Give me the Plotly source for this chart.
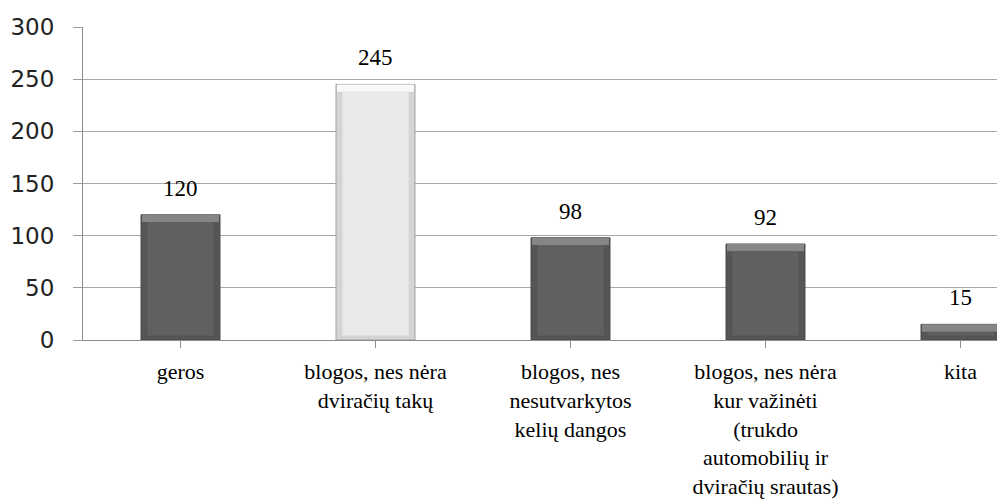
import plotly.graph_objects as go

# Survey answers and counts
categories = [
    "geros",
    "blogos, nes nėra<br>dviračių takų",
    "blogos, nes<br>nesutvarkytos<br>kelių dangos",
    "blogos, nes nėra<br>kur važinėti<br>(trukdo<br>automobilių ir<br>dviračių srautas)",
    "kita",
]
values = [120, 245, 98, 92, 15]
y_ticks = [0, 50, 100, 150, 200, 250, 300]

SERIF = "Liberation Serif"

highlight = 1  # index of the light bar
face = ["#e9e9e9" if i == highlight else "#606060" for i in range(len(values))]
rim = ["#d4d4d4" if i == highlight else "#555555" for i in range(len(values))]
top = ["#f8f8f8" if i == highlight else "#868686" for i in range(len(values))]
edge = ["#a0a0a0" if i == highlight else "#4a4a4a" for i in range(len(values))]

x = list(range(len(categories)))
bevel = 7.0

fig = go.Figure()
# outer bevel rim
fig.add_trace(go.Bar(
    x=x, y=values, width=0.405,
    marker=dict(color=rim, line=dict(color=edge, width=1)),
    hoverinfo="skip", showlegend=False,
))
# lighter top bevel
fig.add_trace(go.Bar(
    x=x, y=[bevel for v in values], base=[v - bevel for v in values],
    width=0.395,
    marker=dict(color=top, line=dict(width=0)),
    hoverinfo="skip", showlegend=False,
))
# inner face of each bar
fig.add_trace(go.Bar(
    x=x, y=[max(v - 1.6 * bevel, 0.3) for v in values],
    base=[0.6 * bevel for v in values],
    width=0.34,
    marker=dict(color=face, line=dict(width=0)),
    hoverinfo="skip", showlegend=False,
))

for xi, v in zip(x, values):
    fig.add_annotation(
        x=xi, y=v, text=str(v), showarrow=False,
        yanchor="bottom", yshift=12,
        font=dict(family=SERIF, size=23, color="#000000"),
    )

fig.update_layout(
    width=997, height=503,
    margin=dict(l=83, r=0, t=27, b=163),
    barmode="overlay",
    plot_bgcolor="#ffffff", paper_bgcolor="#ffffff",
    showlegend=False,
)
fig.update_xaxes(
    tickmode="array", tickvals=x, ticktext=categories,
    range=[-0.5, -0.5 + 914 / 195],
    tickson="boundaries", ticks="outside", ticklen=7, tickcolor="#8c8c8c",
    showline=True, linecolor="#8c8c8c", linewidth=1,
    showgrid=False, tickangle=0,
    tickfont=dict(family=SERIF, size=22, color="#000000"),
    ticklabelstandoff=5,
)
fig.update_yaxes(
    range=[0, 300], tickvals=y_ticks,
    ticks="outside", ticklen=9, tickcolor="#a0a0a0",
    showline=True, linecolor="#8c8c8c", linewidth=1,
    showgrid=True, gridcolor="#a8a8a8", gridwidth=1,
    zeroline=False,
    tickfont=dict(family="DejaVu Sans", size=23, color="#222222"),
    ticklabelstandoff=14,
)

fig.write_html("out.html")
